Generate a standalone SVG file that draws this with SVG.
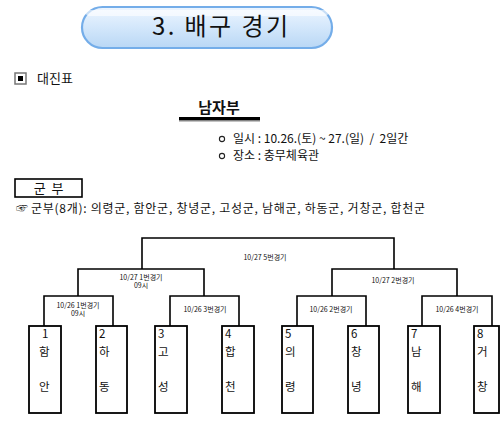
<svg xmlns="http://www.w3.org/2000/svg" width="500" height="423" viewBox="0 0 500 423">
<defs>
<linearGradient id="bg" x1="0" y1="0" x2="0" y2="1">
<stop offset="0" stop-color="#eef6ff"/>
<stop offset="0.5" stop-color="#d3e7fb"/>
<stop offset="1" stop-color="#b9d7f5"/>
</linearGradient>
<style>
text{font-family:"Noto Sans CJK KR","Liberation Sans",sans-serif;fill:#111;white-space:pre}
.lbl{font-size:7px}
.body{font-size:12px}
.box{fill:#fff;stroke:#000;stroke-width:1.8}
.ln{fill:none;stroke:#000;stroke-width:1.6}
.bx{font-size:11.5px}
</style>
</defs>
<rect width="500" height="423" fill="#fff"/>
<g id="title">
<rect x="82" y="7" width="250" height="41" rx="20.5" fill="url(#bg)" stroke="#74ade9" stroke-width="2.2"/>
<rect x="86" y="10" width="242" height="6" rx="3" fill="#fff" opacity="0.6"/>
<text x="220" y="35" font-size="24" text-anchor="middle" textLength="136">3. 배구 경기</text>
</g>
<g id="heading">
<rect x="15" y="73" width="11" height="11" fill="#fff" stroke="#777" stroke-width="1.5"/>
<rect x="18" y="76" width="5" height="5" fill="#000"/>
<text x="37" y="83" font-size="13" fill="#222">대진표</text>
</g>
<g id="division">
<text x="219" y="113" font-size="15" font-weight="bold" text-anchor="middle">남자부</text>
<rect x="179" y="117" width="81" height="3.5" fill="#000"/>
<rect x="179" y="120.5" width="81" height="1" fill="#888"/>
</g>
<g id="info">
<circle cx="222" cy="139" r="2.6" fill="none" stroke="#222" stroke-width="1.1"/>
<text class="body" x="233" y="143" xml:space="preserve">일시 : 10.26.(토) ~ 27.(일)  /  2일간</text>
<circle cx="222" cy="156" r="2.6" fill="none" stroke="#222" stroke-width="1.1"/>
<text class="body" x="233" y="160">장소 : 충무체육관</text>
</g>
<g id="gunbu">
<rect x="15" y="179" width="67" height="18" fill="#fff" stroke="#000" stroke-width="1.6"/>
<text x="48.5" y="193" font-size="13" text-anchor="middle" xml:space="preserve">군  부</text>
<text x="16" y="213" font-size="12" font-family="DejaVu Sans">☞</text>
<text class="body" x="31" y="213" textLength="394">군부(8개): 의령군, 함안군, 창녕군, 고성군, 남해군, 하동군, 거창군, 합천군</text>
</g>
<g id="connectors">
<path class="ln" d="M142,269 V238 H394 V269"/>
<path class="ln" d="M78,296 V269 H204 V296"/>
<path class="ln" d="M332,296 V269 H457 V296"/>
<path class="ln" d="M44,326 V296 H113 V326"/>
<path class="ln" d="M170,326 V296 H239 V326"/>
<path class="ln" d="M297,326 V296 H366 V326"/>
<path class="ln" d="M422,326 V296 H492 V326"/>
</g>
<g id="labels">
<text class="lbl" x="265" y="260" text-anchor="middle">10/27 5번경기</text>
<text class="lbl" x="141" y="280" text-anchor="middle">10/27 1번경기</text>
<text class="lbl" x="141" y="288" text-anchor="middle">09시</text>
<text class="lbl" x="393" y="283" text-anchor="middle">10/27 2번경기</text>
<text class="lbl" x="78" y="308" text-anchor="middle">10/26 1번경기</text>
<text class="lbl" x="78" y="316" text-anchor="middle">09시</text>
<text class="lbl" x="205" y="312" text-anchor="middle">10/26 3번경기</text>
<text class="lbl" x="331" y="312" text-anchor="middle">10/26 2번경기</text>
<text class="lbl" x="457" y="312" text-anchor="middle">10/26 4번경기</text>
</g>
<g id="team1"><rect class="box" x="29" y="326" width="32" height="87"/><text class="bx" x="42" y="338">1</text><text class="bx" x="39" y="356">함</text><text class="bx" x="39" y="391">안</text></g>
<g id="team2"><rect class="box" x="96" y="326" width="31" height="87"/><text class="bx" x="99" y="338">2</text><text class="bx" x="99" y="356">하</text><text class="bx" x="99" y="391">동</text></g>
<g id="team3"><rect class="box" x="155" y="326" width="32" height="87"/><text class="bx" x="158" y="338">3</text><text class="bx" x="158" y="356">고</text><text class="bx" x="158" y="391">성</text></g>
<g id="team4"><rect class="box" x="222" y="326" width="32" height="87"/><text class="bx" x="225" y="338">4</text><text class="bx" x="225" y="356">합</text><text class="bx" x="225" y="391">천</text></g>
<g id="team5"><rect class="box" x="282" y="326" width="31" height="87"/><text class="bx" x="285" y="338">5</text><text class="bx" x="285" y="356">의</text><text class="bx" x="285" y="391">령</text></g>
<g id="team6"><rect class="box" x="348" y="326" width="31" height="87"/><text class="bx" x="351" y="338">6</text><text class="bx" x="351" y="356">창</text><text class="bx" x="351" y="391">녕</text></g>
<g id="team7"><rect class="box" x="408" y="326" width="32" height="87"/><text class="bx" x="411" y="338">7</text><text class="bx" x="411" y="356">남</text><text class="bx" x="411" y="391">해</text></g>
<g id="team8"><rect class="box" x="474" y="326" width="25" height="87"/><text class="bx" x="477" y="338">8</text><text class="bx" x="477" y="356">거</text><text class="bx" x="477" y="391">창</text></g>
</svg>
